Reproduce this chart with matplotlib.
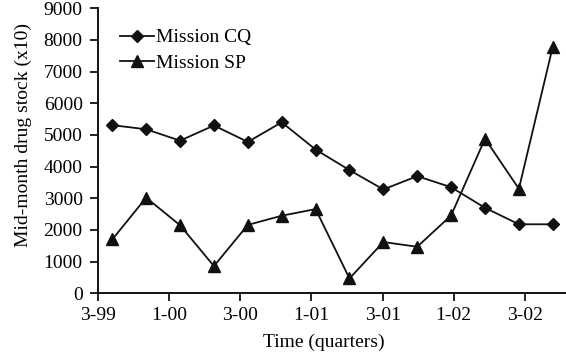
import numpy as np
import matplotlib
matplotlib.use("Agg")
import matplotlib.pyplot as plt

# quarterly mid-month stock readings (x10)
mission_cq = [5310, 5180, 4820, 5300, 4780, 5400, 4540, 3890, 3280, 3700, 3350, 2700, 2180, 2180]
mission_sp = [1700, 3020, 2150, 860, 2160, 2450, 2660, 470, 1620, 1470, 2460, 4880, 3300, 7790]
tick_labels = ["3-99", "1-00", "3-00", "1-01", "3-01", "1-02", "3-02"]
y_ticks = [0, 1000, 2000, 3000, 4000, 5000, 6000, 7000, 8000, 9000]

plt.rcParams["font.family"] = ["Liberation Serif", "DejaVu Serif"]
plt.rcParams["font.size"] = 14

fig = plt.figure(figsize=(5.66, 3.54), dpi=100)
ax = fig.add_axes([0.1731, 0.1714, 0.8269, 0.8052])

x = np.arange(len(mission_cq))
ax.plot(x, mission_cq, color="#111111", lw=1.3, marker="D", ms=5.8, label="Mission CQ")
ax.plot(x, mission_sp, color="#111111", lw=1.3, marker="^", ms=8, label="Mission SP")

tick_pos = -0.422 + 2.1 * np.arange(len(tick_labels))
ax.set_xticks(tick_pos)
ax.set_xticklabels(tick_labels)
ax.set_xlim(-0.422, 13.39)
ax.set_ylim(0, 9000)
ax.set_yticks(y_ticks)

for s in ["top", "right"]:
    ax.spines[s].set_visible(False)
for s in ["left", "bottom"]:
    ax.spines[s].set_linewidth(1.4)
    ax.spines[s].set_color("#111111")
ax.tick_params(direction="out", length=6, width=1.3, color="#111111", pad=4)
ax.tick_params(axis="y", pad=5)

ax.set_xlabel("Time (quarters)")
ax.set_ylabel("Mid-month drug stock (x10)")
ax.xaxis.set_label_coords(0.483, -0.14)
ax.yaxis.set_label_coords(-0.14, 0.555)

ax.legend(loc="upper left", bbox_to_anchor=(0.03, 0.955), frameon=False,
          handlelength=1.75, handletextpad=0.1, labelspacing=0.4,
          borderaxespad=0.0)

fig.savefig("out.png", dpi=100)
